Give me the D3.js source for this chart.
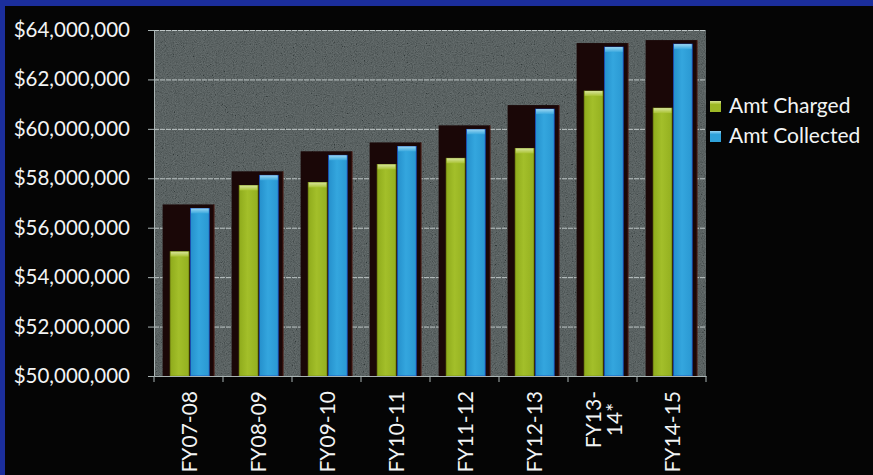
<!DOCTYPE html>
<html>
<head>
<meta charset="utf-8">
<script src="https://cdn.jsdelivr.net/npm/d3@7"></script>
<style>
  html, body { margin: 0; padding: 0; background: #050505; }
  svg { display: block; }
  text { font-family: Lato, "Open Sans", sans-serif; fill: #f2f4f4; }
</style>
</head>
<body>
<svg id="chart" width="873" height="475"></svg>
<script>
// Fiscal years on the x axis
const categories = ["FY07-08", "FY08-09", "FY09-10", "FY10-11", "FY11-12", "FY12-13", "FY13-14*", "FY14-15"];
// Axis text for each year (line breaks where the label wraps)
const tickLabels = ["FY07-08", "FY08-09", "FY09-10", "FY10-11", "FY11-12", "FY12-13", "FY13-\n14*", "FY14-15"];
// Dollar amounts per year
const amtCharged   = [55030000, 57710000, 57830000, 58560000, 58810000, 59210000, 61530000, 60840000];
const amtCollected = [56780000, 58120000, 58930000, 59290000, 59980000, 60800000, 63310000, 63430000];
const seriesNames  = ["Amt Charged", "Amt Collected"];
const yTicks = [50000000, 52000000, 54000000, 56000000, 58000000, 60000000, 62000000, 64000000];

const W = 873, H = 475;
const plot = { left: 154, right: 706, top: 30, bottom: 376 };

const svg = d3.select("#chart");
const defs = svg.append("defs");

// grainy stone texture for the plot area
const grain = defs.append("filter").attr("id", "grain")
  .attr("x", 0).attr("y", 0).attr("width", 1).attr("height", 1);
grain.append("feTurbulence").attr("type", "fractalNoise")
  .attr("baseFrequency", 0.9).attr("numOctaves", 3).attr("seed", 7).attr("result", "n");
grain.append("feColorMatrix").attr("in", "n").attr("type", "matrix")
  .attr("values", "0.8 0.8 0.8 0 -0.7  0.8 0.8 0.8 0 -0.7  0.8 0.8 0.8 0 -0.7  0 0 0 0 1");

// bar fills
function vGrad(id, stops, horizontal) {
  const g = defs.append("linearGradient").attr("id", id)
    .attr("x1", 0).attr("y1", 0).attr("x2", horizontal ? 1 : 0).attr("y2", horizontal ? 0 : 1);
  stops.forEach(([o, c]) => g.append("stop").attr("offset", o).attr("stop-color", c));
}
vGrad("gGreen", [[0, "#8fab1c"], [0.45, "#a3bf2a"], [1, "#94b020"]], true);
vGrad("gBlue",  [[0, "#2590cc"], [0.45, "#34a6de"], [1, "#2a98d2"]], true);
vGrad("capGreen", [[0, "#d8e49a"], [1, "#a9c232"]]);
vGrad("capBlue",  [[0, "#9bd6f2"], [1, "#3aa8de"]]);

const colors = { fill: ["url(#gGreen)", "url(#gBlue)"], cap: ["url(#capGreen)", "url(#capBlue)"],
                 edge: ["#7d9414", "#1a4fc0"], key: ["#9db826", "#2fa2da"] };

// page background with the blue frame
svg.append("rect").attr("width", W).attr("height", H).attr("fill", "#050505");
svg.append("rect").attr("width", W).attr("height", 6).attr("fill", "#1b2e9c");
svg.append("rect").attr("width", 5).attr("height", H).attr("fill", "#1b2e9c");

// scales
const x = d3.scaleBand().domain(categories).range([plot.left, plot.right]).paddingInner(0).paddingOuter(0);
const bw = x.bandwidth();
const x1 = d3.scaleBand().domain(seriesNames).range([0.235 * bw, 0.80 * bw]).paddingInner(0.08);
const y = d3.scaleLinear().domain([50000000, 64000000]).range([plot.bottom, plot.top]);

// plot area
svg.append("rect").attr("x", plot.left).attr("y", plot.top)
  .attr("width", plot.right - plot.left).attr("height", plot.bottom - plot.top)
  .attr("fill", "#3f4949");
svg.append("rect").attr("x", plot.left).attr("y", plot.top)
  .attr("width", plot.right - plot.left).attr("height", plot.bottom - plot.top)
  .attr("filter", "url(#grain)").attr("opacity", 0.22);

// horizontal gridlines
svg.append("g").selectAll("line").data(yTicks.slice(1)).join("line")
  .attr("x1", plot.left).attr("x2", plot.right)
  .attr("y1", d => y(d) + 0.5).attr("y2", d => y(d) + 0.5)
  .attr("stroke", "#d0d8d8").attr("stroke-opacity", 0.85).attr("stroke-width", 1)
  .attr("stroke-dasharray", "5,1");

// dark depth panel behind each pair of bars
const data = categories.map((c, i) => ({ c, vals: [amtCharged[i], amtCollected[i]] }));
const groups = svg.append("g").selectAll("g").data(data).join("g")
  .attr("transform", d => `translate(${x(d.c)},0)`);
groups.append("rect")
  .attr("x", 0.125 * bw).attr("width", 0.745 * bw)
  .attr("y", d => y(d3.max(d.vals)) - 4)
  .attr("height", d => plot.bottom - y(d3.max(d.vals)) + 4)
  .attr("fill", "#1a0707");
groups.append("line")
  .attr("x1", 0.87 * bw).attr("x2", 0.87 * bw)
  .attr("y1", d => y(d3.max(d.vals)) - 4).attr("y2", plot.bottom)
  .attr("stroke", "#4a1a12").attr("stroke-width", 1);

// bars
const bars = groups.selectAll("g.bar").data(d => d.vals.map((v, k) => ({ v, k }))).join("g").attr("class", "bar");
bars.append("rect")
  .attr("x", d => x1(seriesNames[d.k])).attr("width", x1.bandwidth())
  .attr("y", d => y(d.v)).attr("height", d => plot.bottom - y(d.v))
  .attr("fill", d => colors.fill[d.k])
  .attr("stroke", d => colors.edge[d.k]).attr("stroke-width", 0.8);
bars.append("rect")
  .attr("x", d => x1(seriesNames[d.k]) + 0.5).attr("width", x1.bandwidth() - 1)
  .attr("y", d => y(d.v)).attr("height", 5)
  .attr("fill", d => colors.cap[d.k]);

// y axis
const yAxis = svg.append("g").attr("transform", `translate(${plot.left},0)`)
  .call(d3.axisLeft(y).tickValues(yTicks).tickFormat(d3.format("$,")).tickSize(6).tickPadding(18));
yAxis.select(".domain").attr("stroke", "#aab4b4");
yAxis.selectAll(".tick line").attr("stroke", "#aab4b4");
yAxis.selectAll("text").style("font-size", "20.5px").attr("fill", "#f2f4f4");

// x axis: line, boundary ticks and rotated labels
const xAxis = svg.append("g").attr("transform", `translate(0,${plot.bottom})`)
  .call(d3.axisBottom(x).tickSize(0).tickFormat((d, i) => tickLabels[i]));
xAxis.select(".domain").attr("stroke", "#aab4b4");
xAxis.selectAll("line.boundary").data(d3.range(categories.length + 1)).join("line")
  .attr("class", "boundary")
  .attr("x1", i => plot.left + i * bw).attr("x2", i => plot.left + i * bw)
  .attr("y1", 0).attr("y2", 6).attr("stroke", "#aab4b4");
xAxis.selectAll(".tick text").each(function (d, i) {
  const t = d3.select(this);
  const lines = tickLabels[i].split("\n");
  t.text(null).attr("transform", "rotate(-90)").attr("y", 0).attr("dy", null)
    .style("font-size", "21px").attr("fill", "#f2f4f4");
  if (lines.length === 1) {
    t.attr("text-anchor", "end").attr("x", -15).attr("dominant-baseline", "central").text(lines[0]);
  } else {
    const first = t.append("tspan").attr("text-anchor", "end").attr("x", -15).attr("y", -10)
      .attr("dominant-baseline", "central").text(lines[0]);
    const len = first.node().getComputedTextLength();
    lines.slice(1).forEach((ln, j) => {
      t.append("tspan").attr("text-anchor", "middle").attr("x", -15 - len / 2).attr("y", 11 + j * 21)
        .attr("dominant-baseline", "central").text(ln);
    });
  }
});

// legend
const legend = svg.append("g").attr("transform", "translate(710,101)");
seriesNames.forEach((name, k) => {
  const g = legend.append("g").attr("transform", `translate(0,${k * 30})`);
  g.append("rect").attr("width", 11).attr("height", 11).attr("fill", colors.key[k]);
  g.append("rect").attr("width", 11).attr("height", 3).attr("fill", colors.cap[k]);
  g.append("text").attr("x", 19).attr("y", 12).style("font-size", "21px").text(name);
});
</script>
</body>
</html>
